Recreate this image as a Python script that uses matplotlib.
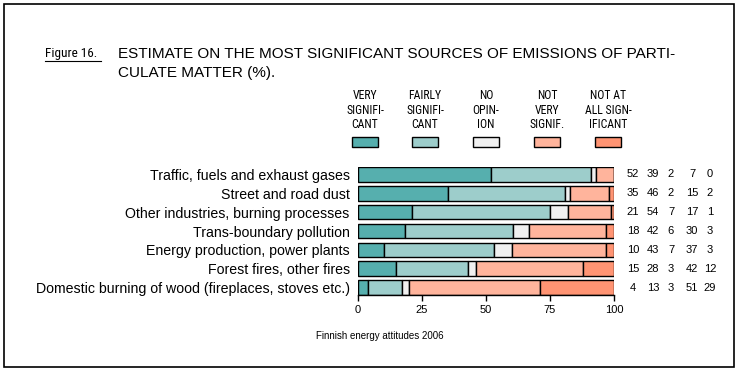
import matplotlib
matplotlib.use("Agg")
import matplotlib.pyplot as plt
import numpy as np
from matplotlib.patches import Rectangle
from matplotlib import font_manager

# data
sources = ['Traffic, fuels and exhaust gases',
           'Street and road dust',
           'Other industries, burning processes',
           'Trans-boundary pollution',
           'Energy production, power plants',
           'Forest fires, other fires',
           'Domestic burning of wood (fireplaces, stoves etc.)']
very_sig = [52, 35, 21, 18, 10, 15, 4]
fairly_sig = [39, 46, 54, 42, 43, 28, 13]
no_opinion = [2, 2, 7, 6, 7, 3, 3]
not_very = [7, 15, 17, 30, 37, 42, 51]
not_at_all = [0, 2, 1, 3, 3, 12, 29]

series_labels = ['VERY\nSIGNIFI-\nCANT', 'FAIRLY\nSIGNIFI-\nCANT', 'NO\nOPIN-\nION',
                 'NOT\nVERY\nSIGNIF.', 'NOT AT\nALL SIGN-\nIFICANT']
colors = ['#56afae', '#9dcdcb', '#f0f0f0', '#ffb49c', '#ff9473']
xticks = [0, 25, 50, 75, 100]

plt.rcParams['font.family'] = ['Liberation Sans', 'DejaVu Sans']

# look for a narrow face for the small legend text
narrow_fp = None
for key in ['LiberationSansNarrow-Regular', 'RobotoCondensed-Regular', 'DejaVuSansCondensed.ttf',
            'Condensed-Regular', 'Narrow']:
    for f in font_manager.fontManager.ttflist:
        if key in f.fname and 'Bold' not in f.fname and 'Italic' not in f.fname \
                and 'Oblique' not in f.fname:
            narrow_fp = f.fname
            break
    if narrow_fp:
        break

def nprops(size):
    if narrow_fp:
        return font_manager.FontProperties(fname=narrow_fp, size=size)
    return font_manager.FontProperties(family='Liberation Sans', size=size * 0.9)

W, H = 740, 373
fig = plt.figure(figsize=(W / 100, H / 100), dpi=100)

def fx(px):
    return px / W

def fy(py):
    return 1 - py / H

# outer frame
fig.patches.append(Rectangle((fx(4), fy(367)), fx(730), 363 / H, transform=fig.transFigure,
                             fill=False, edgecolor='black', linewidth=1.2))

ax = fig.add_axes([fx(358), fy(295), fx(256), 128 / H])

data = np.array([very_sig, fairly_sig, no_opinion, not_very, not_at_all], dtype=float)
shares = data / data.sum(axis=0) * 100
ypos = np.arange(len(sources))[::-1]
left = np.zeros(len(sources))
for i in range(len(series_labels)):
    ax.barh(ypos, shares[i], left=left, height=0.78, color=colors[i],
            edgecolor='black', linewidth=1.0)
    left += shares[i]

ax.set_xlim(0, 100)
ax.set_ylim(-0.39, len(sources) - 0.61)
for s in ['top', 'right', 'left']:
    ax.spines[s].set_visible(False)
ax.spines['bottom'].set_linewidth(1.0)
ax.set_yticks(ypos)
ax.set_yticklabels(sources, fontsize=10.2)
ax.tick_params(axis='y', length=0, pad=6)
ax.set_xticks(xticks)
ax.set_xticklabels([str(t) for t in xticks], fontsize=8)
ax.tick_params(axis='x', length=4, width=1, pad=3)

# value columns next to the bars
col_x = [633, 653, 671, 692, 710]
for r, y in enumerate(ypos):
    for c in range(5):
        ax.annotate(str(int(data[c, r])), xy=(fx(col_x[c]), y),
                    xycoords=('figure fraction', 'data'),
                    fontsize=8, ha='center', va='center', annotation_clip=False)

# legend
leg_x = [365, 425, 486, 547, 608]
for i, lab in enumerate(series_labels):
    fig.text(fx(leg_x[i]), fy(110), lab, fontproperties=nprops(8.5), ha='center', va='center',
             linespacing=1.15)
    fig.patches.append(Rectangle((fx(leg_x[i] - 13), fy(147)), fx(26), 10 / H,
                                 transform=fig.transFigure, facecolor=colors[i],
                                 edgecolor='black', linewidth=1.0))

# title
fig.text(fx(45), fy(54), 'Figure 16.', fontproperties=nprops(9.5), ha='left', va='center')
fig.add_artist(plt.Line2D([fx(45), fx(101)], [fy(61), fy(61)], color='black', linewidth=0.8))
fig.text(fx(118), fy(54), 'ESTIMATE ON THE MOST SIGNIFICANT SOURCES OF EMISSIONS OF PARTI-',
         fontsize=11, ha='left', va='center')
fig.text(fx(118), fy(73), 'CULATE MATTER (%).', fontsize=11, ha='left', va='center')

# footer
fig.text(fx(380), fy(336), 'Finnish energy attitudes 2006', fontsize=7, ha='center', va='center')

fig.savefig('out.png', dpi=100)
